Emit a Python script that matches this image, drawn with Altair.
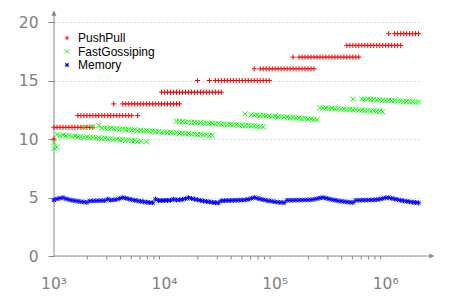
import altair as alt
import pandas as pd

# problem sizes (shared x grid)
n_values = [
    1000, 1064, 1133, 1205, 1283, 1365, 1453, 1546, 1645, 1751, 1863, 1983, 2110, 2246, 2390, 2543,
    2707, 2880, 3065, 3262, 3472, 3695, 3932, 4184, 4453, 4739, 5043, 5367, 5712, 6078, 6469, 6884,
    7326, 7797, 8297, 8830, 9397,
    10000, 10642, 11325, 12053, 12827, 13650, 14526, 15459, 16452, 17508, 18632, 19829, 21102, 22457,
    23899, 25433, 27067, 28805, 30654, 32622, 34717, 36946, 39319, 41843, 44530, 47389, 50432, 53671,
    57117, 60785, 64688, 68841, 73262, 77966, 82972, 88300, 93970,
    100000, 106420, 113250, 120530, 128270, 136500, 145260, 154590, 164520, 175080, 186320, 198290,
    211020, 224570, 238990, 254330, 270670, 288050, 306540, 326220, 347170, 369460, 393190, 418430,
    445300, 473890, 504320, 536710, 571170, 607850, 646880, 688410, 732620, 779660, 829720, 883000,
    939700,
    1000000, 1064200, 1132500, 1205300, 1282700, 1365000, 1452600, 1545900, 1645200, 1750800,
    1863200, 1982900,
]

pushpull = [
    10,
    11, 11, 11, 11, 11, 11, 11, 11, 11, 11, 11, 11, 11,
    12, 12, 12, 12, 12, 12, 12, 12, 12, 12, 12, 12, 12,
    13, 13, 13, 13, 13, 13, 13, 13, 13, 13, 13, 13, 13, 13, 13, 13,
    14, 14, 14, 14, 14, 14, 14, 14, 14, 14, 14, 14, 14, 14,
    15, 15, 15, 15, 15, 15, 15, 15, 15, 15, 15, 15, 15, 15, 15, 15,
    16, 16, 16, 16, 16, 16, 16, 16, 16, 16, 16, 16, 16, 16, 16,
    17, 17, 17, 17, 17, 17, 17, 17, 17, 17, 17, 17, 17, 17, 17,
    18, 18, 18, 18, 18, 18, 18, 18, 18, 18, 18, 18, 18, 18,
    19, 19, 19, 19, 19, 19,
]
N = None
pushpull_alt = [
    11, N, N, N, N, N, N, N, 12, 12, 12, 12, 12, 12, N, N,
    N, N, N, N, 13, N, N, 13, 13, 13, 13, N, 12, N, N, N,
    N, N, N, N, 14, 14, 14, 14, 14, 14, 14, N, N, N, N, N,
    15, N, N, N, 15, N, 15, 15, 15, N, N, N, N, N, N, N,
    N, N, N, 16, N, 16, 16, 16, 16, N, N, N, N, N, N, N,
    17, N, 17, 17, 17, 17, 17, 17, N, N, N, N, N, N, N, N,
    N, N, 18, 18, 18, 18, 18, N, N, N, N, N, N, N, N, N,
    19, N, 19, 19, 19, N, N, N, N, N, N,
]

fastgossiping = [
    9.20, 10.38, 10.30, 10.33, 10.26, 10.29, 10.22, 10.25, 10.18, 10.21, 10.15, 10.18, 10.12, 10.14,
    10.08, 10.11, 10.04, 10.07, 10.00, 10.03, 9.97, 9.99, 9.93, 9.96, 9.89, 9.92, 9.86, 9.88, 9.78,
    9.82,
    10.69, 10.71, 10.66, 10.68, 10.62, 10.64, 10.59, 10.60, 10.55, 10.57, 10.52, 10.54, 10.48, 10.50,
    10.45, 10.47, 10.41, 10.43, 10.38, 10.40, 10.34, 10.36, 10.30, 10.32,
    11.29, 11.31, 11.26, 11.28, 11.23, 11.25, 11.20, 11.22, 11.17, 11.19, 11.14, 11.16, 11.11, 11.13,
    11.08, 11.06, 11.04,
    11.97, 11.98, 11.93, 11.95, 11.89, 11.91, 11.86, 11.87, 11.82, 11.84, 11.78, 11.80, 11.74, 11.76,
    11.70, 11.72, 11.66, 11.64,
    12.68, 12.64, 12.66, 12.61, 12.63, 12.58, 12.60, 12.55, 12.56, 12.52, 12.53, 12.49, 12.50, 12.46,
    12.47, 12.42, 12.44, 12.39, 12.41, 12.36, 12.37, 12.33,
    13.30, 13.31, 13.27, 13.28, 13.24, 13.25, 13.21, 13.22, 13.18, 13.19, 13.15, 13.16,
]
fastgossiping_alt = [
    9.70, 9.30, N, N, N, N, N, N, N, N, 11.00, N, N, 11.05, N, 11.15,
    10.95, 10.95, 10.91, 10.93, 10.87, 10.89, 10.84, 10.86, 10.80, 10.82, 10.76, 10.79, 10.73, 10.75,
    N, 9.76, N, N, N, N, N, N, N, N, N,
    11.52, 11.48, 11.50, 11.44, 11.46, 11.41, 11.43, 11.38, 11.40, 11.35, 11.37, 11.33, 11.34,
    N, N, N, N, N, N, N, N, N, N,
    12.15, N, 12.07, 12.03, 12.05, 12.00, 12.01,
    N, N, N, N, N, N, N, N, N, N, N, N, N, N, N, N, N, N, N, N, N, N, N, N, N, N, N, N, N,
    13.42, N, N, 13.42, 13.40, 13.41, 13.37, 13.38, 13.34, 13.35, 13.31,
    N, N, N, N, N, N, N, N, N, N, N, N,
]

memory = [
    4.79, 4.89, 4.94, 4.99, 4.89, 4.82, 4.76, 4.72, 4.68, 4.64, 4.61, 4.58,
    4.70, 4.71, 4.72, 4.73, 4.73, 4.74, 4.86, 4.77, 4.80, 4.84, 4.92, 5.00, 4.94, 4.87, 4.81, 4.76,
    4.71, 4.67, 4.63, 4.60, 4.57, 4.55,
    4.86, 4.74, 4.74, 4.75, 4.75, 4.76, 4.86, 4.78, 4.80, 4.84, 4.90, 4.98, 4.92, 4.86, 4.80, 4.75,
    4.70, 4.66, 4.62, 4.59, 4.56, 4.54,
    4.72, 4.73, 4.74, 4.74, 4.75, 4.76, 4.77, 4.78, 4.80, 4.84, 4.92, 5.00, 4.94, 4.87, 4.81, 4.76,
    4.71, 4.67, 4.63, 4.60, 4.58, 4.56,
    4.76, 4.76, 4.76, 4.77, 4.77, 4.78, 4.79, 4.80, 4.81, 4.84, 4.90, 4.96, 5.00, 4.94, 4.88, 4.82,
    4.77, 4.72, 4.68, 4.65, 4.62, 4.59, 4.57,
    4.76, 4.76, 4.77, 4.77, 4.78, 4.79, 4.80, 4.82, 4.86, 4.92, 4.98, 4.99, 4.93, 4.87, 4.81, 4.76,
    4.71, 4.67, 4.63, 4.60, 4.57, 4.54,
]

series_names = ["PushPull", "FastGossiping", "Memory"]
series_colors = ["#ff0000", "#00ff00", "#0000ff"]
series_shapes = [
    "M-1,0L1,0M0,-1L0,1",
    "M-1,-1L1,1M-1,1L1,-1",
    "M-1,0L1,0M0,-1L0,1M-0.8,-0.8L0.8,0.8M-0.8,0.8L0.8,-0.8",
]
series_sizes = [26, 24, 18]

x_tick_values = [1000, 10000, 100000, 1000000, 2000000]
x_label_values = [1000, 10000, 100000, 1000000]
x_label_texts = ["10³", "10⁴", "10⁵", "10⁶"]
x_minor_ticks = [2000, 3000, 4000, 5000, 6000, 7000, 8000, 9000,
                 20000, 30000, 40000, 50000, 60000, 70000, 80000, 90000,
                 200000, 300000, 400000, 500000, 600000, 700000, 800000, 900000]
y_tick_values = [0, 5, 10, 15, 20]

rows = []
for name, lists in [("PushPull", [pushpull, pushpull_alt]),
                    ("FastGossiping", [fastgossiping, fastgossiping_alt]),
                    ("Memory", [memory])]:
    for lst in lists:
        for n, v in zip(n_values, lst):
            if v is not None:
                rows.append({"n": n, "value": v, "series": name})
df = pd.DataFrame(rows)

W, H = 365, 234
GRAY = "#888888"
LABEL_GRAY = "#808080"
FONT = "DejaVu Sans"

xscale = alt.Scale(type="log", domain=[1000, 2000000], nice=False)
color_scale = alt.Scale(domain=series_names, range=series_colors)
shape_scale = alt.Scale(domain=series_names, range=series_shapes)

points = alt.Chart(df).mark_point(filled=False, strokeWidth=1, opacity=1).encode(
    x=alt.X("n:Q", scale=xscale, axis=alt.Axis(
        values=x_tick_values, labels=False, title=None,
        grid=True, gridDash=[1, 3], gridColor="#bbbbbb", domain=False,
        tickColor=GRAY, tickSize=6)),
    y=alt.Y("value:Q", scale=alt.Scale(domain=[0, 20], nice=False), axis=alt.Axis(
        values=y_tick_values, title=None, grid=True, gridDash=[1, 3], gridColor="#bbbbbb",
        domain=False, tickColor=GRAY, tickSize=6, labelFontSize=15.5, labelColor=LABEL_GRAY,
        labelPadding=10, labelFont=FONT)),
    color=alt.Color("series:N", scale=color_scale, legend=None),
    shape=alt.Shape("series:N", scale=shape_scale, legend=None),
    size=alt.Size("series:N", scale=alt.Scale(domain=series_names, range=series_sizes), legend=None),
)

x_labels = alt.Chart(pd.DataFrame({"n": x_label_values, "label": x_label_texts})).mark_text(
    font=FONT, fontSize=15.5, color=LABEL_GRAY, align="center", baseline="alphabetic",
).encode(x=alt.X("n:Q", scale=xscale, axis=None), y=alt.value(H + 33), text="label:N")

minor = alt.Chart(pd.DataFrame({"n": x_minor_ticks})).mark_rule(color=GRAY, strokeWidth=1).encode(
    x=alt.X("n:Q", scale=xscale, axis=None), y=alt.value(H), y2=alt.value(H + 3.5))

one = pd.DataFrame({"z": [0]})
y_line = alt.Chart(one).mark_rule(color=GRAY, strokeWidth=1).encode(
    x=alt.value(0), y=alt.value(H), y2=alt.value(-7))
x_line = alt.Chart(one).mark_rule(color=GRAY, strokeWidth=1).encode(
    x=alt.value(0), x2=alt.value(375), y=alt.value(H))
y_arrow = alt.Chart(one).mark_point(shape="M0,-1L0.9,1L-0.9,1Z", filled=True, color=GRAY,
                                    size=30, opacity=1).encode(x=alt.value(0), y=alt.value(-9))
x_arrow = alt.Chart(one).mark_point(shape="M1,0L-1,-0.9L-1,0.9Z", filled=True, color=GRAY,
                                    size=30, opacity=1).encode(x=alt.value(378), y=alt.value(H))

# hand-placed legend (one row per series)
legend_layers = []
for i, name in enumerate(series_names):
    ldf = pd.DataFrame({"series": [name]})
    ry = 16 + 13.5 * i
    legend_layers.append(alt.Chart(ldf).mark_point(filled=False, strokeWidth=1, size=18, opacity=1).encode(
        x=alt.value(13), y=alt.value(ry),
        color=alt.Color("series:N", scale=color_scale, legend=None),
        shape=alt.Shape("series:N", scale=shape_scale, legend=None)))
    legend_layers.append(alt.Chart(ldf).mark_text(
        font="Liberation Sans", fontSize=12, color="#000000", align="left", baseline="middle").encode(
        x=alt.value(24), y=alt.value(ry), text="series:N"))

chart = alt.layer(minor, x_labels, y_line, x_line, y_arrow, x_arrow, points, *legend_layers).properties(
    width=W, height=H,
    padding={"left": 46, "top": 14, "right": 15, "bottom": 40},
    autosize=alt.AutoSizeParams(type="none"),
).configure_view(stroke=None)

chart.save("out.html", embed_options={"renderer": "svg", "actions": False})
